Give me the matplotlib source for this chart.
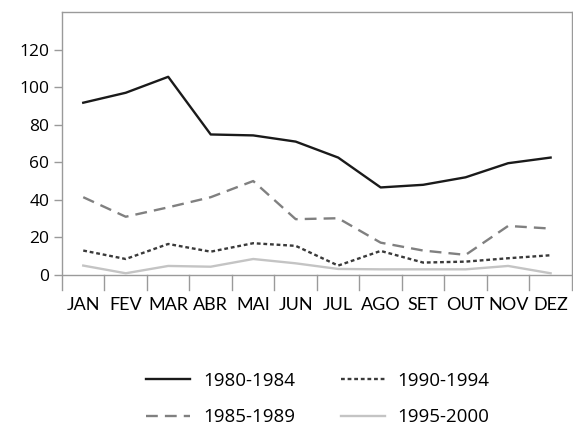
import matplotlib.pyplot as plt

plt.rcParams['font.family'] = ['Lato', 'DejaVu Sans']

months = ['JAN', 'FEV', 'MAR', 'ABR', 'MAI', 'JUN', 'JUL', 'AGO', 'SET', 'OUT', 'NOV', 'DEZ']
s_1980_1984 = [91.7, 97.0, 105.5, 74.8, 74.3, 71.0, 62.5, 46.6, 48.0, 52.0, 59.5, 62.5]
s_1985_1989 = [41.4, 31.0, 36.0, 41.4, 50.0, 29.7, 30.2, 17.2, 13.0, 10.7, 26.1, 24.7]
s_1990_1994 = [13.0, 8.5, 16.5, 12.4, 16.9, 15.5, 5.0, 12.8, 6.6, 7.1, 8.9, 10.5]
s_1995_2000 = [5.0, 0.9, 4.8, 4.4, 8.5, 6.2, 3.2, 3.0, 3.0, 3.0, 4.8, 0.9]
labels = ['1980-1984', '1985-1989', '1990-1994', '1995-2000']
yticks = [0, 20, 40, 60, 80, 100, 120]

GRAY = '#9a9a9a'

fig = plt.figure(figsize=(5.73, 4.30), dpi=100)
ax = fig.add_axes([0.1082, 0.3256, 0.8898, 0.6465])

x = list(range(len(months)))
ax.plot(x, s_1980_1984, color='#1a1a1a', lw=1.7, label=labels[0])
ax.plot(x, s_1985_1989, color='#808080', lw=1.7, linestyle=(0, (5, 3)), label=labels[1])
ax.plot(x, s_1990_1994, color='#3a3a3a', lw=1.7, linestyle=(0, (1.6, 1.2)), label=labels[2])
ax.plot(x, s_1995_2000, color='#c4c4c4', lw=1.7, label=labels[3])

ax.axhline(0, color=GRAY, lw=1.0, zorder=1)
# category separators below the zero line
for b in range(1, len(months)):
    ax.plot([b - 0.5, b - 0.5], [-8, 0], color=GRAY, lw=1.0, clip_on=False)

ax.set_xlim(-0.5, len(months) - 0.5)
ax.set_ylim(-8, 140)
ax.set_yticks(yticks)
ax.set_yticklabels([str(v) for v in yticks], fontsize=12.5,
                   family=['Open Sans', 'DejaVu Sans'])
ax.tick_params(axis='y', length=6, color=GRAY, width=1.0, pad=3)
ax.set_xticks(x)
ax.set_xticklabels(months, fontsize=13)
ax.tick_params(axis='x', length=0, pad=5)
for sp in ax.spines.values():
    sp.set_color(GRAY)
    sp.set_linewidth(1.0)
ax.spines['bottom'].set_visible(False)

leg = fig.legend(loc='center', bbox_to_anchor=(0.555, 0.072), ncol=2, frameon=False,
                 prop={'family': ['Open Sans', 'DejaVu Sans'], 'size': 13.5},
                 handlelength=2.35, columnspacing=2.4, labelspacing=1.0,
                 handletextpad=0.7)

fig.savefig('out.png', dpi=100)
